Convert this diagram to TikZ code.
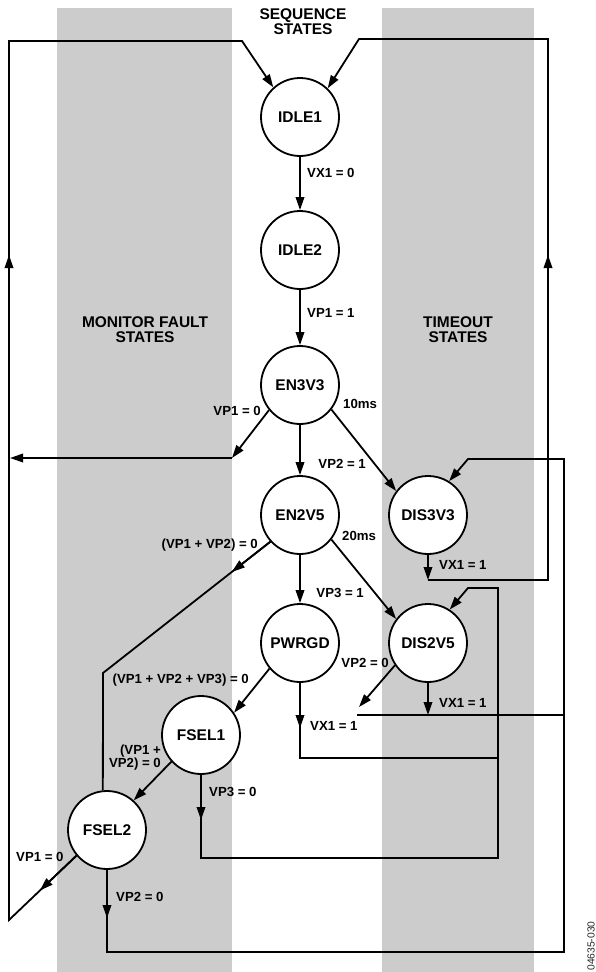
\documentclass[tikz,border=0pt]{standalone}
\usepackage{fontspec}
\setmainfont{Liberation Sans}
\usepackage{tikz}
\usetikzlibrary{calc,positioning,arrows.meta}
\tikzset{
    seqst/.style={
    circle,draw=black,fill=white,line width=1.8pt,minimum size=78pt,inner sep=0pt,
    font=\fontsize{15.5}{16}\selectfont\bfseries
    },
    cond/.style={
    inner sep=0pt,text height=9.5pt,text depth=0pt,
    font=\fontsize{13.2}{13}\selectfont\bfseries
    },
    heading/.style={
    align=center,inner sep=0pt,font=\fontsize{15.5}{15}\selectfont\bfseries
    },
  band/.style={fill=black!20,draw=none},
  wire/.style={draw, line width=1.8pt},
  conn/.style={wire, ->},
  >={Triangle[length=13pt,width=8.5pt]}
}

\begin{document}
\begin{tikzpicture}[x=1pt,y=-1pt]
    \useasboundingbox (0,0) rectangle (595,972);
    % shaded columns
    \path[band] (57,8) rectangle (232,972);
    \path[band] (382,8) rectangle (534,972);

    \node[heading] (hseq) at (303,22) {SEQUENCE\\STATES};
    \node[heading] (hmon) at (145,330) {MONITOR FAULT\\STATES};
    \node[heading] (htim) at (458,330) {TIMEOUT\\STATES};

    % sequence states
    \node[seqst] (idlea) at (300,117) {IDLE1};
    \node[seqst,below of=idlea,node distance=133pt] (idleb) {IDLE2};
    \node[seqst,below of=idleb,node distance=135pt] (en3) {EN3V3};
    \node[seqst,below of=en3,node distance=130pt] (en2) {EN2V5};
    \node[seqst,below of=en2,node distance=128pt] (pwr) {PWRGD};
    % timeout states
    \node[seqst,right of=en2,node distance=128pt] (dis3) {DIS3V3};
    \node[seqst,right of=pwr,node distance=128pt] (dis2) {DIS2V5};
    % monitor fault states
    \node[seqst] (fsela) at (201,735) {FSEL1};
    \node[seqst] (fselb) at (107,830) {FSEL2};

    % conditions
    \node[cond,anchor=west] (c1) at (307,173) {VX1 = 0};
    \node[cond,anchor=west] (c2) at (307,313) {VP1 = 1};
    \node[cond,anchor=east] (c3) at (261,411) {VP1 = 0};
    \node[cond,anchor=west] (c4) at (343,404) {10ms};
    \node[cond,anchor=east] (c5) at (366,464) {VP2 = 1};
    \node[cond,anchor=east] (c6) at (258,544) {(VP1 + VP2) = 0};
    \node[cond,anchor=west] (c7) at (342,536) {20ms};
    \node[cond,anchor=west] (c8) at (439,565) {VX1 = 1};
    \node[cond,anchor=east] (c9) at (364,593) {VP3 = 1};
    \node[cond,anchor=east] (c10) at (389,663) {VP2 = 0};
    \node[cond,anchor=east] (c11) at (249,679) {(VP1 + VP2 + VP3) = 0};
    \node[cond,anchor=west] (c12) at (439,703) {VX1 = 1};
    \node[cond,anchor=west] (c13) at (310,726) {VX1 = 1};
    \node[cond,anchor=east] (c14) at (161,750) {(VP1 +};
    \node[cond,anchor=east] (c15) at (161,763) {VP2) = 0};
    \node[cond,anchor=west] (c16) at (209,792) {VP3 = 0};
    \node[cond,anchor=west] (c17) at (16,857) {VP1 = 0};
    \node[cond,anchor=west] (c18) at (116,897) {VP2 = 0};

    \node[rotate=90,inner sep=0pt,text=black!85,font=\fontsize{10.3}{11}\selectfont] (fig) at (591,946) {04635-030};

    % corners of the return lines
    \coordinate (ma) at (232,458);
    \coordinate (mb) at (10,458);
    \coordinate (la) at (9,920);
    \coordinate (lb) at (9,255);
    \coordinate (lc) at (9,41);
    \coordinate (ld) at (242,41);
    \coordinate (ra) at (428,580);
    \coordinate (rb) at (548,580);
    \coordinate (rc) at (548,255);
    \coordinate (rd) at (548,39);
    \coordinate (re) at (359,39);
    \coordinate (ba) at (107,952);
    \coordinate (bb) at (564,952);
    \coordinate (bc) at (564,459);
    \coordinate (bd) at (468,459);
    \coordinate (be) at (107,918);
    \coordinate (ka) at (201,858);
    \coordinate (kb) at (498,858);
    \coordinate (kc) at (498,588);
    \coordinate (kd) at (468,588);
    \coordinate (ke) at (201,820);
    \coordinate (pa) at (300,758);
    \coordinate (pb) at (498,758);
    \coordinate (pc) at (300,728);
    \coordinate (ha) at (357,715);
    \coordinate (hb) at (428,715);
    \coordinate (hc) at (359,707);
    \coordinate (hd) at (564,715);
    \coordinate (ga) at (103,673);
    \coordinate (gb) at ($(en2.222)!0.23!(ga)$);
    \coordinate (fa) at ($(fselb.220)!0.54!(la)$);

    \begin{scope}
      \path[conn] (idlea) -- (idleb);
      \path[conn] (idleb) -- (en3);
      \path[conn] (en3) -- (en2);
      \path[conn] (en2) -- (pwr);
      \path[conn] (en3.-38) -- (dis3.143);
      \path[conn] (en2.-38) -- (dis2.143);
      \path[conn] (pwr.220) -- (fsela.34);
      \path[conn] (fsela.222) -- (fselb.48);

      \path[conn] (en3.219) -- (ma);
      \path[conn] (ma) -- (mb);

      \path[wire] (en2.222) -- (ga) -- (fselb.96);
      \path[conn] (en2.222) -- (gb);

      % back to IDLE1
      \path[conn] (fselb.220) -- (la) -- (lc) -- (ld) -- (idlea.132);
      \path[conn] (fselb.220) -- (fa);
      \path[conn] (la) -- (lb);
      \path[conn] (dis3) -- (ra);
      \path[conn] (ra) -- (rb) -- (rd) -- (re) -- (idlea.46);
      \path[conn] (rb) -- (rc);

      % back to DIS3V3 and DIS2V5
      \path[conn] (fselb) -- (ba) -- (bb) -- (bc) -- (bd) -- (dis3.58);
      \path[conn] (fselb) -- (be);
      \path[conn] (fsela) -- (ka) -- (kb) -- (kc) -- (kd) -- (dis2.57);
      \path[conn] (fsela) -- (ke);
      \path[wire] (pwr) -- (pa) -- (pb);
      \path[conn] (pwr) -- (pc);
      \path[wire] (ha) -- (hd);
      \path[conn] (dis2) -- (hb);
      \path[conn] (dis2.214) -- (hc);
    \end{scope}
\end{tikzpicture}
\end{document}
